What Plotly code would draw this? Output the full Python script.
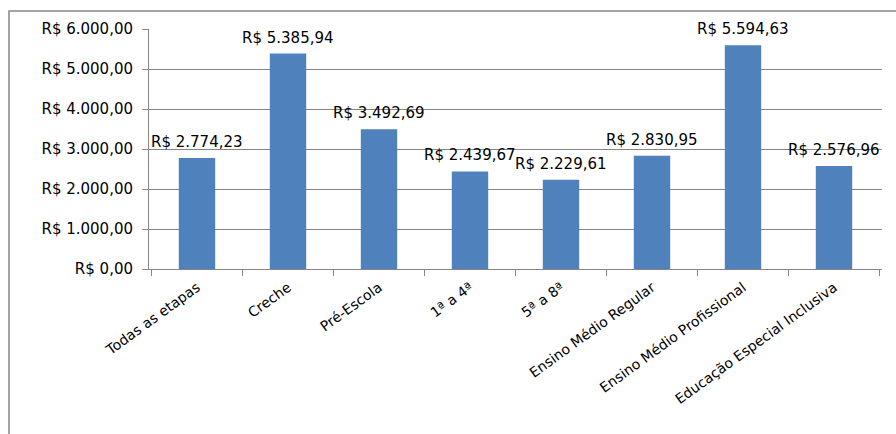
import plotly.graph_objects as go

categories = ["Todas as etapas", "Creche", "Pré-Escola", "1ª a 4ª", "5ª a 8ª",
              "Ensino Médio Regular", "Ensino Médio Profissional", "Educação Especial Inclusiva"]
values = [2774.23, 5385.94, 3492.69, 2439.67, 2229.61, 2830.95, 5594.63, 2576.96]
y_ticks = [0, 1000, 2000, 3000, 4000, 5000, 6000]


def brl(v):
    s = f"{v:,.2f}".replace(",", "X").replace(".", ",").replace("X", ".")
    return "R$ " + s


FONT = "DejaVu Sans"
SIZE = 15
fig = go.Figure(go.Bar(
    x=categories, y=values,
    marker=dict(color="#4F81BD", line=dict(width=0)),
    hoverinfo="skip",
))
for c, v in zip(categories, values):
    fig.add_annotation(x=c, y=v, text=brl(v), showarrow=False, yanchor="bottom",
                       yshift=5, font=dict(family=FONT, size=SIZE, color="#000000"))
fig.update_layout(
    width=896, height=434,
    margin=dict(l=149, r=14, t=29, b=165, autoexpand=False),
    paper_bgcolor="white", plot_bgcolor="white",
    showlegend=False,
    bargap=0.6,
    font=dict(family=FONT, size=SIZE, color="#000000"),
    shapes=[dict(type="rect", xref="paper", yref="paper",
                 x0=-0.191, x1=1.2, y0=-1.0, y1=1.075,
                 line=dict(color="#868686", width=1.5), fillcolor="rgba(0,0,0,0)", layer="below")],
)
fig.update_yaxes(range=[0, 6000], tickvals=y_ticks, ticktext=[brl(v) for v in y_ticks],
                 showgrid=True, gridcolor="#868686", gridwidth=1, automargin=False,
                 showline=True, linecolor="#868686", ticks="outside", ticklen=6, tickcolor="#868686",
                 ticklabelstandoff=6,
                 zeroline=False, tickfont=dict(family=FONT, size=SIZE))
fig.update_xaxes(showline=True, linecolor="#868686", ticks="outside", tickson="boundaries",
                 ticklen=6, tickcolor="#868686", tickangle=-36, automargin=False,
                 ticklabelstandoff=4,
                 tickfont=dict(family=FONT, size=14))
fig.write_html("out.html", post_script="document.body.style.margin='0';",
               config={"displayModeBar": False})
